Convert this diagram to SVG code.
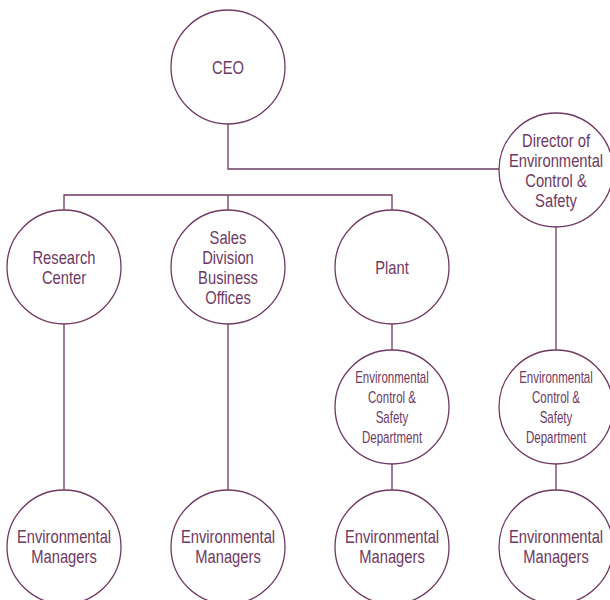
<svg xmlns="http://www.w3.org/2000/svg" width="610" height="600" viewBox="0 0 610 600">
<style>
.n{fill:#fff;stroke:#6e3a62;stroke-width:1.3}
.c{fill:none;stroke:#6e3a62;stroke-width:1.3}
text{font-family:"Liberation Sans",Arial,sans-serif;fill:#6e3a62;text-anchor:middle;font-size:18px}
.s{font-size:16px}
</style>
<rect width="610" height="600" fill="#fff"/>
<g id="connectors">
<path class="c" d="M228 124V169H499M64 210V195H392V210M228 195V210M64 324V490M228 324V490M392 324V350M392 464V490M556 227V350M556 464V490"/>
</g>
<g id="ceo"><circle class="n" cx="228" cy="67" r="57"/><text transform="matrix(0.82 0 0 1 228 74)">CEO</text></g>
<g id="director"><circle class="n" cx="556" cy="170" r="57"/><text transform="matrix(0.82 0 0 1 556 147)">Director of</text><text transform="matrix(0.82 0 0 1 556 167)">Environmental</text><text transform="matrix(0.82 0 0 1 556 187)">Control &amp;</text><text transform="matrix(0.82 0 0 1 556 207)">Safety</text></g>
<g id="research"><circle class="n" cx="64" cy="267" r="57"/><text transform="matrix(0.82 0 0 1 64 264)">Research</text><text transform="matrix(0.82 0 0 1 64 284)">Center</text></g>
<g id="sales"><circle class="n" cx="228" cy="267" r="57"/><text transform="matrix(0.82 0 0 1 228 244)">Sales</text><text transform="matrix(0.82 0 0 1 228 264)">Division</text><text transform="matrix(0.82 0 0 1 228 284)">Business</text><text transform="matrix(0.82 0 0 1 228 304)">Offices</text></g>
<g id="plant"><circle class="n" cx="392" cy="267" r="57"/><text transform="matrix(0.82 0 0 1 392 274)">Plant</text></g>
<g id="dept1"><circle class="n" cx="392" cy="407" r="57"/><text class="s" transform="matrix(0.72 0 0 1 392 383)">Environmental</text><text class="s" transform="matrix(0.72 0 0 1 392 403)">Control &amp;</text><text class="s" transform="matrix(0.72 0 0 1 392 423)">Safety</text><text class="s" transform="matrix(0.72 0 0 1 392 443)">Department</text></g>
<g id="dept2"><circle class="n" cx="556" cy="407" r="57"/><text class="s" transform="matrix(0.72 0 0 1 556 383)">Environmental</text><text class="s" transform="matrix(0.72 0 0 1 556 403)">Control &amp;</text><text class="s" transform="matrix(0.72 0 0 1 556 423)">Safety</text><text class="s" transform="matrix(0.72 0 0 1 556 443)">Department</text></g>
<g id="mgr1"><circle class="n" cx="64" cy="547" r="57"/><text transform="matrix(0.82 0 0 1 64 543)">Environmental</text><text transform="matrix(0.82 0 0 1 64 563)">Managers</text></g>
<g id="mgr2"><circle class="n" cx="228" cy="547" r="57"/><text transform="matrix(0.82 0 0 1 228 543)">Environmental</text><text transform="matrix(0.82 0 0 1 228 563)">Managers</text></g>
<g id="mgr3"><circle class="n" cx="392" cy="547" r="57"/><text transform="matrix(0.82 0 0 1 392 543)">Environmental</text><text transform="matrix(0.82 0 0 1 392 563)">Managers</text></g>
<g id="mgr4"><circle class="n" cx="556" cy="547" r="57"/><text transform="matrix(0.82 0 0 1 556 543)">Environmental</text><text transform="matrix(0.82 0 0 1 556 563)">Managers</text></g>
</svg>
